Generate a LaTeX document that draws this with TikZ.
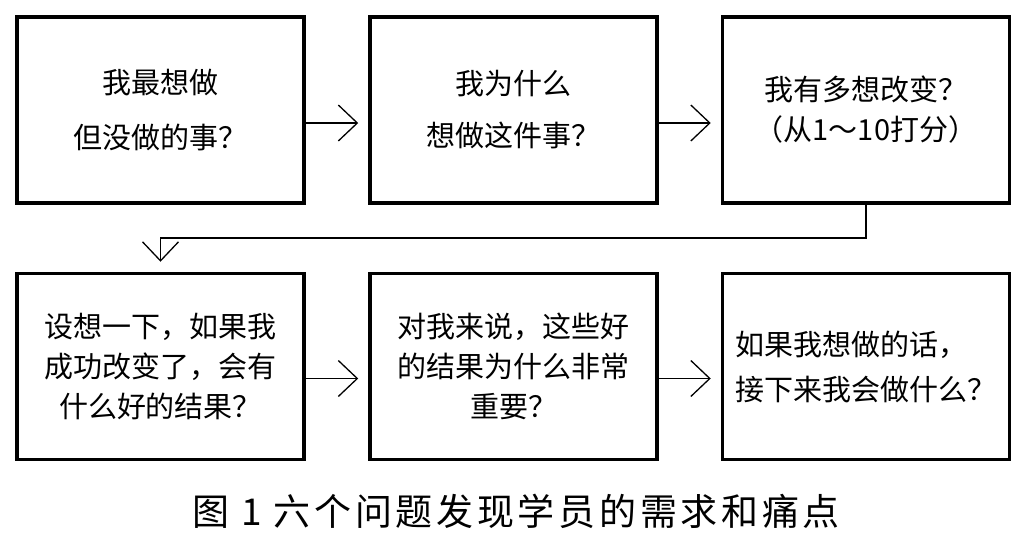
\documentclass[tikz,border=0pt]{standalone}
\usepackage{fontspec}
\newfontfamily\cjk{Noto Sans CJK SC}
\newfontfamily\cjkcap[LetterSpace=10]{Noto Sans CJK SC}
\usetikzlibrary{arrows.meta}

\begin{document}
\begin{tikzpicture}[x=1pt, y=-1pt,
    qbox/.style={draw, rectangle, line width=3.5pt, minimum width=287pt, minimum height=186pt, align=center, font=\cjk\fontsize{29}{40}\selectfont},
    flow/.style={line width=1.3pt, -{Straight Barb[length=19pt, width=36pt]}, shorten >=10pt}]
    \useasboundingbox (0,0) rectangle (1029,536);

    % first row
    \node[qbox] (q1) at (160.5, 110) {我最想做\\[15pt]但没做的事？};
    \node[qbox] (q2) at (513.5, 110) {我为什么\\[12pt]想做这件事？};
    \node[qbox] (q3) at (866, 110) {我有多想改变？\\（从1～10打分）};

    % second row
    \node[qbox] (q4) at (160.5, 366.5) {设想一下，如果我\\成功改变了，会有\\什么好的结果？};
    \node[qbox] (q5) at (513.5, 366.5) {对我来说，这些好\\的结果为什么非常\\重要？};
    \node[qbox, align=left] (q6) at (866, 366.5) {如果我想做的话，\\[5pt]接下来我会做什么？};

    \coordinate (turn) at (160.5, 238);

    \draw[flow] ([yshift=-13pt]q1.east) -- ([yshift=-13pt]q2.west);
    \draw[flow] ([yshift=-13pt]q2.east) -- ([yshift=-13pt]q3.west);
    \draw[flow] (q3.south) |- (turn) -- (q4.north);
    \draw[flow] ([yshift=-12pt]q4.east) -- ([yshift=-12pt]q5.west);
    \draw[flow] ([yshift=-12pt]q5.east) -- ([yshift=-12pt]q6.west);

    \node[font=\cjkcap\fontsize{37}{40}\selectfont] (cap) at (516, 511) {图 1 六个问题发现学员的需求和痛点};
\end{tikzpicture}
\end{document}
